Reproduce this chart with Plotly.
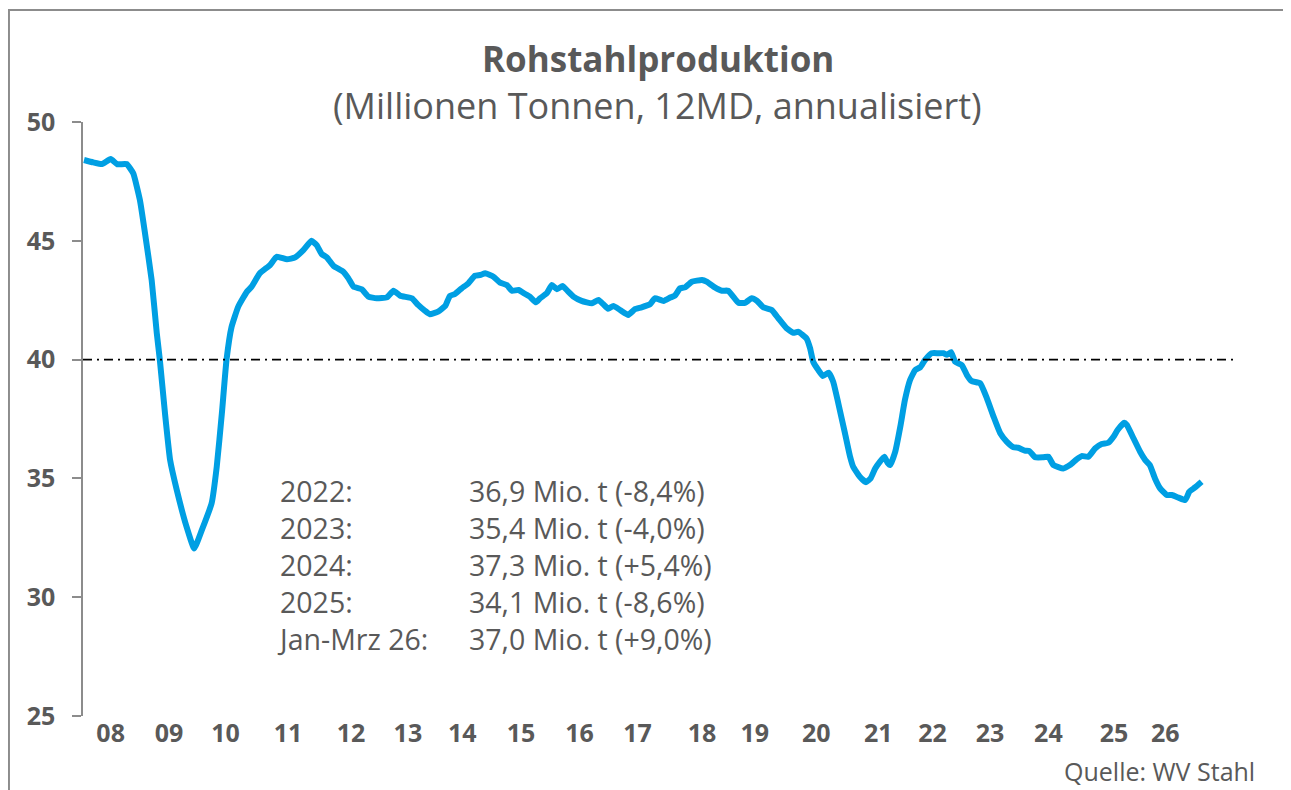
import plotly.graph_objects as go

# month index since Jan 2008 and production (Mio. t, 12MD annualised)
months = [0, 1.8, 3.5, 5.2, 6.5, 8.3, 9.6, 10.9, 11.9, 13.2, 14.2, 14.8, 15.8, 16.8, 18.1, 20.0, 21.5,
          23.0, 24.9, 25.9, 26.9, 27.8, 28.8, 30.1, 31.8, 32.7, 34.3, 36.3, 37.6, 39.6, 41.2, 42.8, 44.4,
          45.4, 46.4, 47.4, 48.7, 50.6, 51.6, 52.6, 54.2, 55.5, 57.1, 59.1, 60.4, 61.7, 64.0, 65.2, 66.5,
          67.5, 69.1, 70.5, 71.4, 72.4, 73.7, 75.0, 76.3, 77.3, 78.3, 79.9, 81.2, 82.5, 83.5, 84.8, 86.1,
          87.0, 88.2, 89.0, 90.3, 91.3, 92.3, 93.4, 94.5, 95.5, 97.1, 99.1, 100.4, 101.3, 102.3, 103.3,
          104.6, 106.2, 107.5, 108.8, 110.5, 111.4, 113.1, 114.4, 115.3, 116.3, 117.3, 118.6, 120.6, 121.5,
          123.1, 124.5, 125.7, 126.7, 127.7, 129.0, 130.3, 131.3, 132.6, 134.2, 135.5, 137.1, 138.4, 139.4,
          141.0, 141.7, 142.3, 143.3, 144.2, 145.3, 146.2, 147.2, 148.5, 149.5, 150.1, 151.4, 152.6, 153.5,
          154.4, 155.3, 156.2, 156.8, 157.3, 158.3, 159.3, 160.2, 161.2, 162.2, 163.2, 164.1, 165.4, 166.7,
          167.7, 168.4, 169.2, 170.0, 171.3, 172.3, 173.2, 174.9, 176.2, 177.5, 178.8, 180.1, 181.4, 182.3,
          183.6, 184.5, 185.6, 187.2, 188.2, 189.2, 191.1, 192.4, 193.7, 194.7, 196.0, 197.3, 198.6, 199.9,
          200.9, 201.7, 203.0, 203.5, 204.8, 206.1, 207.1, 208.0, 209.0, 210.0, 211.3, 212.3, 213.6, 214.9,
          215.7, 216.8, 218.1]
production = [48.40, 48.30, 48.23, 48.44, 48.22, 48.23, 47.84, 46.72, 45.32, 43.35, 41.11, 39.98, 37.74,
              35.77, 34.51, 32.97, 32.05, 32.83, 33.95, 35.49, 37.74, 39.98, 41.38, 42.23, 42.86, 43.07,
              43.63, 43.98, 44.33, 44.22, 44.30, 44.61, 45.00, 44.82, 44.44, 44.30, 43.94, 43.70, 43.42,
              43.07, 42.96, 42.65, 42.58, 42.62, 42.90, 42.69, 42.58, 42.30, 42.06, 41.91, 42.02, 42.26,
              42.68, 42.76, 43.00, 43.21, 43.53, 43.56, 43.63, 43.49, 43.24, 43.14, 42.90, 42.93, 42.76,
              42.65, 42.41, 42.58, 42.79, 43.14, 42.96, 43.10, 42.86, 42.65, 42.47, 42.37, 42.51, 42.34,
              42.14, 42.26, 42.09, 41.88, 42.12, 42.20, 42.34, 42.58, 42.47, 42.61, 42.69, 43.00, 43.04,
              43.28, 43.35, 43.28, 43.04, 42.90, 42.90, 42.65, 42.39, 42.39, 42.58, 42.48, 42.20, 42.09,
              41.74, 41.32, 41.13, 41.17, 40.89, 40.47, 39.91, 39.56, 39.31, 39.45, 39.07, 38.16, 36.90,
              35.91, 35.49, 35.07, 34.84, 35.00, 35.42, 35.70, 35.91, 35.66, 35.56, 36.12, 37.18, 38.30,
              39.14, 39.56, 39.68, 39.98, 40.27, 40.27, 40.27, 40.20, 40.31, 39.91, 39.77, 39.35, 39.10,
              39.00, 38.37, 37.60, 36.90, 36.54, 36.31, 36.29, 36.17, 36.15, 35.89, 35.89, 35.91, 35.56,
              35.42, 35.56, 35.80, 35.94, 35.91, 36.26, 36.45, 36.50, 36.75, 37.04, 37.34, 37.25, 36.69,
              36.12, 35.77, 35.56, 35.00, 34.58, 34.30, 34.30, 34.19, 34.09, 34.44, 34.62, 34.86]

year_labels = ["08", "09", "10", "11", "12", "13", "14", "15", "16", "17", "18", "19", "20",
               "21", "22", "23", "24", "25", "26"]
year_label_pos = [5.2, 16.6, 27.6, 39.8, 52.1, 63.2, 73.8, 85.3, 96.7, 108.0, 120.6, 130.9, 142.9,
                  155.0, 165.6, 176.8, 188.2, 201.0, 211.0]
y_ticks = [25, 30, 35, 40, 45, 50]
reference_level = 40

stat_periods = ["2022:", "2023:", "2024:", "2025:", "Jan-Mrz 26:"]
stat_values = ["36,9 Mio. t (-8,4%)", "35,4 Mio. t (-4,0%)", "37,3 Mio. t (+5,4%)",
               "34,1 Mio. t (-8,6%)", "37,0 Mio. t (+9,0%)"]

FONT = "Open Sans"
GREY = "#595959"

fig = go.Figure()
fig.add_trace(go.Scatter(x=months, y=production, mode="lines",
                         line=dict(color="#009FE3", width=6, shape="spline", smoothing=0.4),
                         hoverinfo="skip", showlegend=False))

fig.add_shape(type="line", xref="x domain", yref="y", x0=0, x1=1,
              y0=reference_level, y1=reference_level,
              line=dict(color="black", width=1.6, dash="9px,5px,2px,5px"))

# outer frame (left and top edges visible, right/bottom run off the picture)
fig.add_shape(type="rect", xref="paper", yref="paper", x0=-0.0641, x1=1.06, y0=-0.15, y1=1.1886,
              line=dict(color="#8C8C8C", width=2), fillcolor="rgba(0,0,0,0)", layer="below")

fig.add_annotation(text="<b>Rohstahlproduktion</b>", xref="paper", yref="paper", x=0.4978, y=1.1077,
                   xanchor="center", yanchor="middle", showarrow=False,
                   font=dict(family=FONT, size=35, color=GREY))
fig.add_annotation(text="(Millionen Tonnen, 12MD, annualisiert)", xref="paper", yref="paper",
                   x=0.4978, y=1.0286, xanchor="center", yanchor="middle", showarrow=False,
                   font=dict(family=FONT, size=36, color=GREY))

# statistics block: two left-aligned columns, one line per period
fig.add_annotation(text="<br>".join(stat_periods), xref="paper", yref="paper", x=0.1662, y=0.2542,
                   xanchor="left", yanchor="middle", align="left", showarrow=False,
                   font=dict(family=FONT, size=28.5, color=GREY))
fig.add_annotation(text="<br>".join(stat_values), xref="paper", yref="paper", x=0.3325, y=0.2542,
                   xanchor="left", yanchor="middle", align="left", showarrow=False,
                   font=dict(family=FONT, size=28.5, color=GREY))

fig.add_annotation(text="Quelle: WV Stahl", xref="paper", yref="paper", x=1.0165, y=-0.0926,
                   xanchor="right", yanchor="middle", showarrow=False,
                   font=dict(family=FONT, size=25, color=GREY))

# page body has an 8px margin: figure is sized so the plot area lands on the reference pixels
fig.update_layout(
    width=1283, height=782,
    margin=dict(l=75, r=53, t=114, b=74),
    paper_bgcolor="white", plot_bgcolor="white",
    xaxis=dict(range=[-0.2, 225.2], tickmode="array", tickvals=year_label_pos, ticktext=year_labels,
               showgrid=False, zeroline=False, showline=False, ticks="",
               tickfont=dict(family=FONT, size=25, color=GREY, weight="bold")),
    yaxis=dict(range=[25, 50], tickmode="array", tickvals=y_ticks, showgrid=False, zeroline=False,
               showline=True, linecolor="#8C8C8C", linewidth=1.5, ticks="outside", ticklen=9,
               tickcolor="#8C8C8C", tickwidth=1.5, ticklabelstandoff=12,
               tickfont=dict(family=FONT, size=25, color=GREY, weight="bold")),
)

fig.write_html("out.html")
